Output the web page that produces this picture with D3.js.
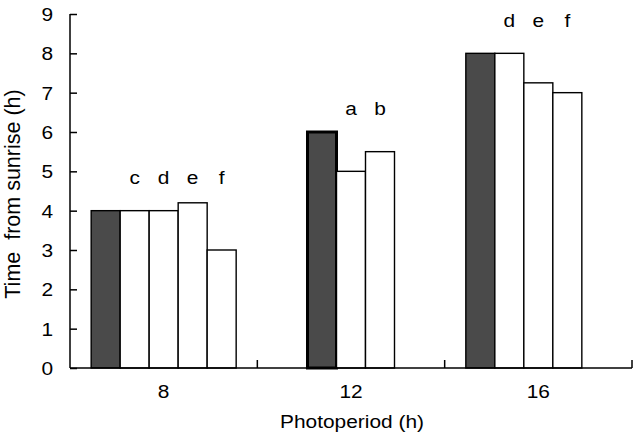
<!DOCTYPE html>
<html>
<head>
<meta charset="utf-8">
<script src="https://cdn.jsdelivr.net/npm/d3@7"></script>
<style>
  body { margin: 0; background: #fff; }
  text { font-family: "Liberation Sans", Arial, sans-serif; fill: #000; }
</style>
</head>
<body>
<div id="chart"></div>
<script>
// photoperiod groups
const periods = ["8", "12", "16"];
// bar values per group (first bar = dark one)
const values8 = [4, 4, 4, 4.2, 3];
const values12 = [6, 5, 5.5];
const values16 = [8, 8, 7.25, 7];
// slot the first bar of each group sits in
const firstSlot = [0, 1, 0];
// letters over the white bars
const letters8 = ["c", "d", "e", "f"];
const letters12 = ["a", "b"];
const letters16 = ["d", "e", "f"];
// height (in h) where letters sit
const letterLevel = [4.68, 6.42, 8.67];
const yTicks = [0, 1, 2, 3, 4, 5, 6, 7, 8, 9];

const width = 633, height = 436;
const margins = {top: 14, right: 1, bottom: 68, left: 70};
const fontSize = 18.5;
const stretch = 1.13; // text in the picture is a bit wider than normal

const svg = d3.select("#chart").append("svg")
  .attr("width", width)
  .attr("height", height);

const x0 = d3.scaleBand()
  .domain(periods)
  .range([margins.left, width - margins.right])
  .padding(0);

const x1 = d3.scaleBand()
  .domain(d3.range(5))
  .range([0, x0.bandwidth()])
  .paddingInner(0)
  .paddingOuter(0.73);

const y = d3.scaleLinear()
  .domain([0, 9])
  .range([height - margins.bottom, margins.top]);

const groups = [values8, values12, values16];
const letterSets = [letters8, letters12, letters16];

let bars = [];
let labels = [];
groups.forEach(function (vals, g) {
  vals.forEach(function (v, i) {
    bars.push({period: periods[g], slot: firstSlot[g] + i, value: v, dark: i === 0, thick: g === 1 && i === 0});
  });
  letterSets[g].forEach(function (l, i) {
    labels.push({period: periods[g], slot: firstSlot[g] + i + 1, text: l, level: letterLevel[g]});
  });
});

function wideText(sel, x, y) {
  sel.attr("transform", (d, i) => "translate(" + x(d, i) + "," + y(d, i) + ") scale(" + stretch + ",1)")
    .attr("font-size", fontSize + "px");
}

// bars
svg.append("g")
  .selectAll("rect")
  .data(bars)
  .join("rect")
    .attr("x", d => x0(d.period) + x1(d.slot))
    .attr("y", d => y(d.value))
    .attr("width", x1.bandwidth())
    .attr("height", d => y(0) - y(d.value))
    .attr("fill", d => d.dark ? "#4a4a4a" : "#fff")
    .attr("stroke", "#000")
    .attr("stroke-width", d => d.thick ? 3 : 1.4);

// letters
svg.append("g")
  .selectAll("text")
  .data(labels)
  .join("text")
    .attr("text-anchor", "middle")
    .text(d => d.text)
    .call(wideText, d => x0(d.period) + x1(d.slot) + x1.bandwidth() / 2, d => y(d.level));

// y axis
const yAxis = svg.append("g")
  .attr("transform", "translate(" + margins.left + ",0)")
  .call(d3.axisRight(y).tickValues(yTicks).tickSize(7).tickFormat(d3.format("d")));
yAxis.selectAll("line").attr("stroke", "#000").attr("stroke-width", 1.5);
yAxis.select(".domain").attr("stroke", "#000").attr("stroke-width", 1.5).attr("d", "M0," + y(9) + "V" + y(0));
yAxis.selectAll("text")
  .attr("x", null)
  .attr("text-anchor", "end")
  .attr("dy", "0.35em")
  .attr("font-family", "Liberation Sans, Arial, sans-serif")
  .call(wideText, () => -17, () => 0);

// x axis
const xAxis = svg.append("g")
  .attr("transform", "translate(0," + y(0) + ")");
xAxis.append("line")
  .attr("x1", margins.left)
  .attr("x2", width - margins.right)
  .attr("stroke", "#000")
  .attr("stroke-width", 1.5);
xAxis.selectAll(".sep")
  .data(periods)
  .join("line")
    .attr("class", "sep")
    .attr("x1", d => x0(d) + x0.bandwidth())
    .attr("x2", d => x0(d) + x0.bandwidth())
    .attr("y1", 0)
    .attr("y2", -8)
    .attr("stroke", "#000")
    .attr("stroke-width", 1.5);
xAxis.selectAll(".lab")
  .data(periods)
  .join("text")
    .attr("class", "lab")
    .attr("text-anchor", "middle")
    .text(d => d)
    .call(wideText, d => x0(d) + x0.bandwidth() / 2, () => 30);

// axis titles
svg.append("text")
  .attr("text-anchor", "middle")
  .text("Photoperiod (h)")
  .call(wideText, () => 352, () => 428);

svg.append("text")
  .attr("transform", "translate(20,194) rotate(-90)")
  .attr("text-anchor", "middle")
  .attr("font-size", "21.5px")
  .attr("xml:space", "preserve")
  .style("white-space", "pre")
  .text("Time  from sunrise (h)");
</script>
</body>
</html>
